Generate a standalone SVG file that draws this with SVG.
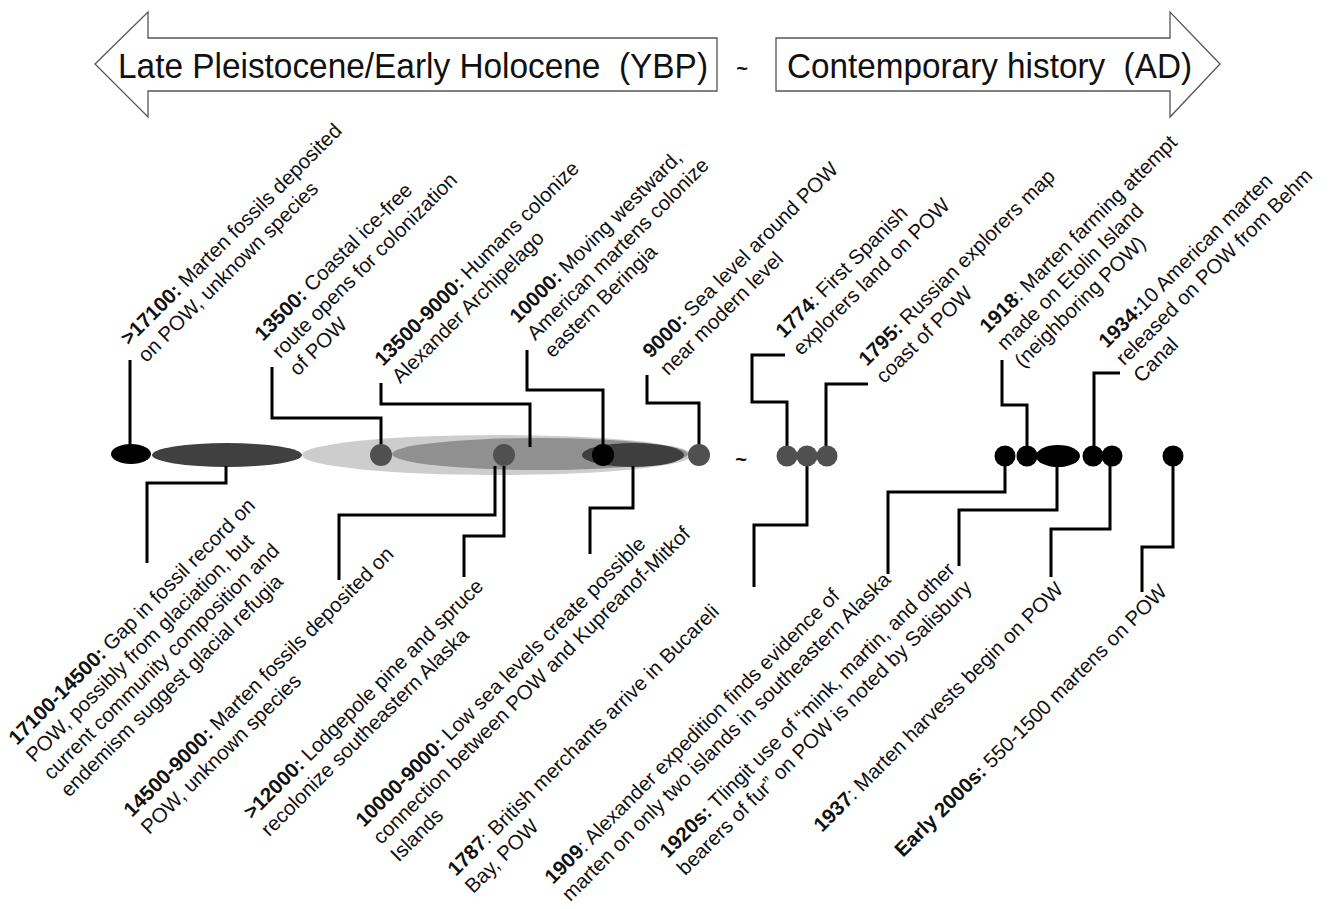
<svg xmlns="http://www.w3.org/2000/svg" width="1331" height="909" viewBox="0 0 1331 909">
<style>
text{font-family:"Liberation Sans",Arial,sans-serif;fill:#111}
.hd{font-size:35px}
.lbl{font-size:20.5px}
.b{font-weight:bold}
.tl{font-size:20px;font-weight:bold}
.arr{fill:#fff;stroke:#555;stroke-width:1.3}
.con{fill:none;stroke:#000;stroke-width:3}
.gc{fill:#505050}
.bc{fill:#000}
</style>
<g id="header">
<polygon class="arr" points="95,64 148,12 148,38 717,38 717,91 148,91 148,117"/>
<text class="hd" x="118" y="78" textLength="590" lengthAdjust="spacingAndGlyphs" xml:space="preserve">Late Pleistocene/Early Holocene  (YBP)</text>
<polygon class="arr" points="776,38 1170,38 1170,12 1220,64 1170,117 1170,91 776,91"/>
<text class="hd" x="787" y="78" textLength="405" lengthAdjust="spacingAndGlyphs" xml:space="preserve">Contemporary history  (AD)</text>
<text class="tl" x="742" y="75" text-anchor="middle">~</text>
</g>
<g id="timeline">
<ellipse cx="497" cy="455" rx="195" ry="20" fill="#cdcdcd"/>
<ellipse cx="540" cy="454" rx="148" ry="16" fill="#909090"/>
<ellipse cx="633" cy="455" rx="51" ry="12" fill="#3e3e3e"/>
<ellipse cx="131" cy="454" rx="20" ry="10" fill="#000"/>
<ellipse cx="227" cy="455" rx="75" ry="12" fill="#404040"/>
<ellipse cx="1058" cy="456" rx="22" ry="11" fill="#000"/>
<text class="tl" x="741" y="466" text-anchor="middle">~</text>
</g>
<g id="connectors">
<path class="con" d="M130,360 V446"/>
<path class="con" d="M272,367 V418 H381 V446"/>
<path class="con" d="M381,383 V404 H530 V447"/>
<path class="con" d="M527,350 V390 H603 V446"/>
<path class="con" d="M647,375 V403 H699 V446"/>
<path class="con" d="M785,355 H752 V402 H787 V446"/>
<path class="con" d="M868,384 H826 V446"/>
<path class="con" d="M1002,360 V405 H1027 V446"/>
<path class="con" d="M1120,373 H1094 V446"/>
<path class="con" d="M226,466 V483 H147 V563"/>
<path class="con" d="M495,466 V515 H339 V580"/>
<path class="con" d="M504,466 V536 H464 V577"/>
<path class="con" d="M633,466 V508 H590 V554"/>
<path class="con" d="M807,466 V525 H754 V587"/>
<path class="con" d="M1005,466 V492 H888 V574"/>
<path class="con" d="M1057,466 V510 H959 V566"/>
<path class="con" d="M1110,466 V529 H1051 V577"/>
<path class="con" d="M1173,466 V547 H1142 V592"/>
</g>
<g id="markers">
<circle class="gc" cx="381" cy="455" r="11"/>
<circle class="gc" cx="504" cy="455" r="11"/>
<circle class="bc" cx="603" cy="455" r="11"/>
<circle class="gc" cx="699" cy="455" r="11"/>
<circle class="gc" cx="787" cy="456" r="10.5"/>
<circle class="gc" cx="807" cy="456" r="10.5"/>
<circle class="gc" cx="827" cy="456" r="10.5"/>
<circle class="bc" cx="1005" cy="456" r="10.5"/>
<circle class="bc" cx="1027" cy="456" r="10.5"/>
<circle class="bc" cx="1093" cy="456" r="10.5"/>
<circle class="bc" cx="1112" cy="456" r="10.5"/>
<circle class="bc" cx="1173" cy="456" r="10.5"/>
</g>
<g id="n1" transform="translate(129,346) rotate(-45)"><text class="lbl"><tspan x="0" y="0"><tspan class="b">&gt;17100:</tspan> Marten fossils deposited</tspan><tspan x="0" y="24.5">on POW, unknown species</tspan></text></g>
<g id="n2" transform="translate(263,342) rotate(-45)"><text class="lbl"><tspan x="0" y="0"><tspan class="b">13500:</tspan> Coastal ice-free</tspan><tspan x="0" y="24.5">route opens for colonization</tspan><tspan x="0" y="49">of POW</tspan></text></g>
<g id="n3" transform="translate(383,367) rotate(-45)"><text class="lbl"><tspan x="0" y="0"><tspan class="b">13500-9000:</tspan> Humans colonize</tspan><tspan x="0" y="24.5">Alexander Archipelago</tspan></text></g>
<g id="n4" transform="translate(518,324) rotate(-45)"><text class="lbl"><tspan x="0" y="0"><tspan class="b">10000:</tspan> Moving westward,</tspan><tspan x="0" y="24.5">American martens colonize</tspan><tspan x="0" y="49">eastern Beringia</tspan></text></g>
<g id="n5" transform="translate(651,359) rotate(-45)"><text class="lbl"><tspan x="0" y="0"><tspan class="b">9000:</tspan> Sea level around POW</tspan><tspan x="0" y="24.5">near modern level</tspan></text></g>
<g id="n6" transform="translate(784,339) rotate(-45)"><text class="lbl"><tspan x="0" y="0"><tspan class="b">1774</tspan>: First Spanish</tspan><tspan x="0" y="24.5">explorers land on POW</tspan></text></g>
<g id="n7" transform="translate(867,367) rotate(-45)"><text class="lbl"><tspan x="0" y="0"><tspan class="b">1795:</tspan> Russian explorers map</tspan><tspan x="0" y="24.5">coast of POW</tspan></text></g>
<g id="n8" transform="translate(988,334) rotate(-45)"><text class="lbl"><tspan x="0" y="0"><tspan class="b">1918</tspan>: Marten farming attempt</tspan><tspan x="0" y="24.5">made on Etolin Island</tspan><tspan x="0" y="49">(neighboring POW)</tspan></text></g>
<g id="n9" transform="translate(1107,349) rotate(-45)"><text class="lbl"><tspan x="0" y="0"><tspan class="b">1934:</tspan>10 American marten</tspan><tspan x="0" y="24.5">released on POW from Behm</tspan><tspan x="0" y="49">Canal</tspan></text></g>
<g id="n10" transform="translate(17,746) rotate(-45)"><text class="lbl"><tspan x="0" y="0"><tspan class="b">17100-14500:</tspan> Gap in fossil record on</tspan><tspan x="0" y="24.5">POW, possibly from glaciation, but</tspan><tspan x="0" y="49">current community composition and</tspan><tspan x="0" y="73.5">endemism suggest glacial refugia</tspan></text></g>
<g id="n11" transform="translate(132,818) rotate(-45)"><text class="lbl"><tspan x="0" y="0"><tspan class="b">14500-9000:</tspan> Marten fossils deposited on</tspan><tspan x="0" y="24.5">POW, unknown species</tspan></text></g>
<g id="n12" transform="translate(252,820) rotate(-45)"><text class="lbl"><tspan x="0" y="0"><tspan class="b">&gt;12000:</tspan> Lodgepole pine and spruce</tspan><tspan x="0" y="24.5">recolonize southeastern Alaska</tspan></text></g>
<g id="n13" transform="translate(364,828) rotate(-45)"><text class="lbl"><tspan x="0" y="0"><tspan class="b">10000-9000:</tspan> Low sea levels create possible</tspan><tspan x="0" y="24.5">connection between POW and Kupreanof-Mitkof</tspan><tspan x="0" y="49">Islands</tspan></text></g>
<g id="n14" transform="translate(456,877) rotate(-45)"><text class="lbl"><tspan x="0" y="0"><tspan class="b">1787</tspan>: British merchants arrive in Bucareli</tspan><tspan x="0" y="24.5">Bay, POW</tspan></text></g>
<g id="n15" transform="translate(553,885) rotate(-45)"><text class="lbl"><tspan x="0" y="0"><tspan class="b">1909</tspan>: Alexander expedition finds evidence of</tspan><tspan x="0" y="24.5">marten on only two islands in southeastern Alaska</tspan></text></g>
<g id="n16" transform="translate(668,859) rotate(-45)"><text class="lbl"><tspan x="0" y="0"><tspan class="b">1920s:</tspan> Tlingit use of “mink, martin, and other</tspan><tspan x="0" y="24.5">bearers of fur” on POW is noted by Salisbury</tspan></text></g>
<g id="n17" transform="translate(822,833) rotate(-45)"><text class="lbl"><tspan x="0" y="0"><tspan class="b">1937</tspan>: Marten harvests begin on POW</tspan></text></g>
<g id="n18" transform="translate(903,858) rotate(-45)"><text class="lbl"><tspan x="0" y="0"><tspan class="b">Early 2000s:</tspan> 550-1500 martens on POW</tspan></text></g>
</svg>
